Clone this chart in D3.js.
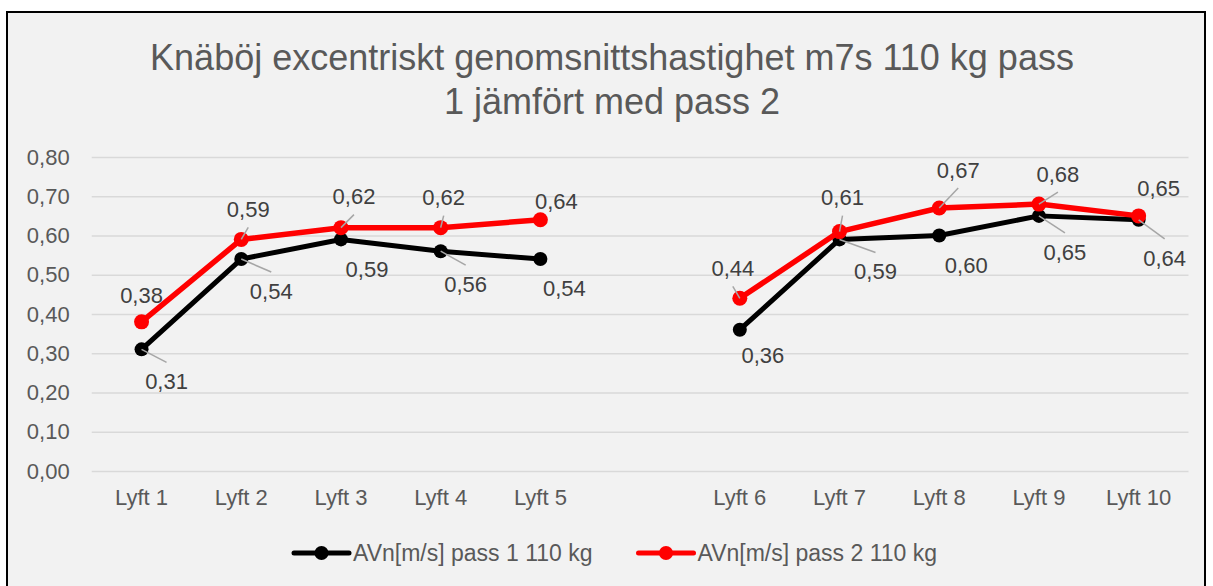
<!DOCTYPE html>
<html><head><meta charset="utf-8">
<script src="https://cdn.jsdelivr.net/npm/d3@7"></script>
<style>
html,body{margin:0;padding:0;background:#fff;}
svg{display:block;}
</style></head>
<body>
<svg id="chart" width="1213" height="586"></svg>
<script>
// ---- data ----
const titleLines = ["Knäböj excentriskt genomsnittshastighet m7s 110 kg pass", "1 jämfört med pass 2"];
const categories = ["Lyft 1","Lyft 2","Lyft 3","Lyft 4","Lyft 5","","Lyft 6","Lyft 7","Lyft 8","Lyft 9","Lyft 10"];
const pass1 = [0.31,0.54,0.59,0.56,0.54,null,0.36,0.59,0.60,0.65,0.64];
const pass2 = [0.38,0.59,0.62,0.62,0.64,null,0.44,0.61,0.67,0.68,0.65];
const seriesNames = ["AVn[m/s] pass 1 110 kg","AVn[m/s] pass 2 110 kg"];
const yTicks = [0,0.1,0.2,0.3,0.4,0.5,0.6,0.7,0.8];

// label placement (layout): offsets from the point in px, and leader-line flags
const labelOff1 = [[25,32],[30,32],[26,30],[25,33],[24,29],null,[23,26],[36,32],[27,30],[26,36],[26,38]];
const leader1   = [1,1,0,1,0,0,0,1,0,1,1];
const labelOff2 = [[0,-27],[7,-30],[13,-31],[3,-30],[16,-19],null,[-7,-30],[3,-34],[19,-38],[19,-30],[20,-28]];
const leader2   = [0,1,1,1,0,0,1,1,1,1,0];

const colors = ["#000000","#ff0000"];
const sans = "'Liberation Sans',Arial,sans-serif";

const svg = d3.select("#chart");
svg.append("rect").attr("x",7).attr("y",12).attr("width",1198).attr("height",600)
  .attr("fill","#f2f2f2").attr("stroke","#000").attr("stroke-width",2);

svg.append("g").selectAll("text").data(titleLines).join("text")
  .attr("x",612).attr("y",(d,i)=>57+i*44).attr("dy","0.35em")
  .attr("text-anchor","middle").attr("fill","#595959")
  .style("font-family",sans).style("font-size","36px").text(d=>d);

const pL=91.7, pR=1188.5, pT=157, pB=471;
const x = d3.scaleBand().domain(d3.range(categories.length)).range([pL,pR]).padding(0);
const y = d3.scaleLinear().domain([0,0.8]).range([pB,pT]);
const cx = i => x(i)+x.bandwidth()/2;

const loc = d3.formatLocale({decimal:",",thousands:" ",grouping:[3],currency:["","kr"]});
const f2 = loc.format(".2f");

const ya = svg.append("g").attr("transform",`translate(${pL},0)`)
  .call(d3.axisLeft(y).tickValues(yTicks).tickFormat(f2).tickSize(-(pR-pL)).tickPadding(22));
ya.select(".domain").remove();
ya.selectAll(".tick line").attr("stroke","#d9d9d9").attr("stroke-width",1.5);
ya.selectAll(".tick text").attr("fill","#595959").style("font-family",sans).style("font-size","22px");

const xa = svg.append("g").attr("transform",`translate(0,${pB})`)
  .call(d3.axisBottom(x).tickFormat(i=>categories[i]).tickSize(0).tickPadding(18));
xa.select(".domain").remove();
xa.selectAll(".tick text").attr("fill","#595959").style("font-family",sans).style("font-size","22px");

const series = [pass1,pass2];
const offs = [labelOff1,labelOff2];
const leads = [leader1,leader2];
const line = d3.line().defined(d=>d.v!=null).x(d=>cx(d.i)).y(d=>y(d.v));

series.forEach((s,k)=>{
  const pts = s.map((v,i)=>({v,i}));
  const g = svg.append("g");
  g.append("path").datum(pts).attr("d",line).attr("fill","none")
    .attr("stroke",colors[k]).attr("stroke-width",k?5.5:5).attr("stroke-linejoin","round");
  g.selectAll("circle").data(pts.filter(d=>d.v!=null)).join("circle")
    .attr("cx",d=>cx(d.i)).attr("cy",d=>y(d.v)).attr("r",k?7.5:7).attr("fill",colors[k]);
});

series.forEach((s,k)=>{
  const pts = s.map((v,i)=>({v,i})).filter(d=>d.v!=null);
  const g = svg.append("g");
  g.selectAll("line").data(pts.filter(d=>leads[k][d.i])).join("line")
    .attr("x1",d=>cx(d.i)).attr("y1",d=>y(d.v))
    .attr("x2",d=>cx(d.i)+offs[k][d.i][0]).attr("y2",d=>y(d.v)+offs[k][d.i][1]+(k?18:-19))
    .attr("stroke","#a6a6a6").attr("stroke-width",1.5);
  g.selectAll("text").data(pts).join("text")
    .attr("x",d=>cx(d.i)+offs[k][d.i][0]).attr("y",d=>y(d.v)+offs[k][d.i][1]).attr("dy","0.35em")
    .attr("text-anchor","middle").attr("fill","#404040")
    .style("font-family",sans).style("font-size","22px").text(d=>f2(d.v));
});

const lg = svg.append("g");
let lx = 294;
seriesNames.forEach((name,k)=>{
  const it = lg.append("g").attr("transform",`translate(${lx},553)`);
  it.append("line").attr("x1",0).attr("x2",55).attr("stroke",colors[k]).attr("stroke-width",5).attr("stroke-linecap","round");
  it.append("circle").attr("cx",27.5).attr("r",7).attr("fill",colors[k]);
  const t = it.append("text").attr("x",59).attr("dy","0.35em").attr("fill","#595959")
    .style("font-family",sans).style("font-size","23px").text(name);
  lx += 59 + t.node().getComputedTextLength() + 46;
});
</script>
</body></html>
